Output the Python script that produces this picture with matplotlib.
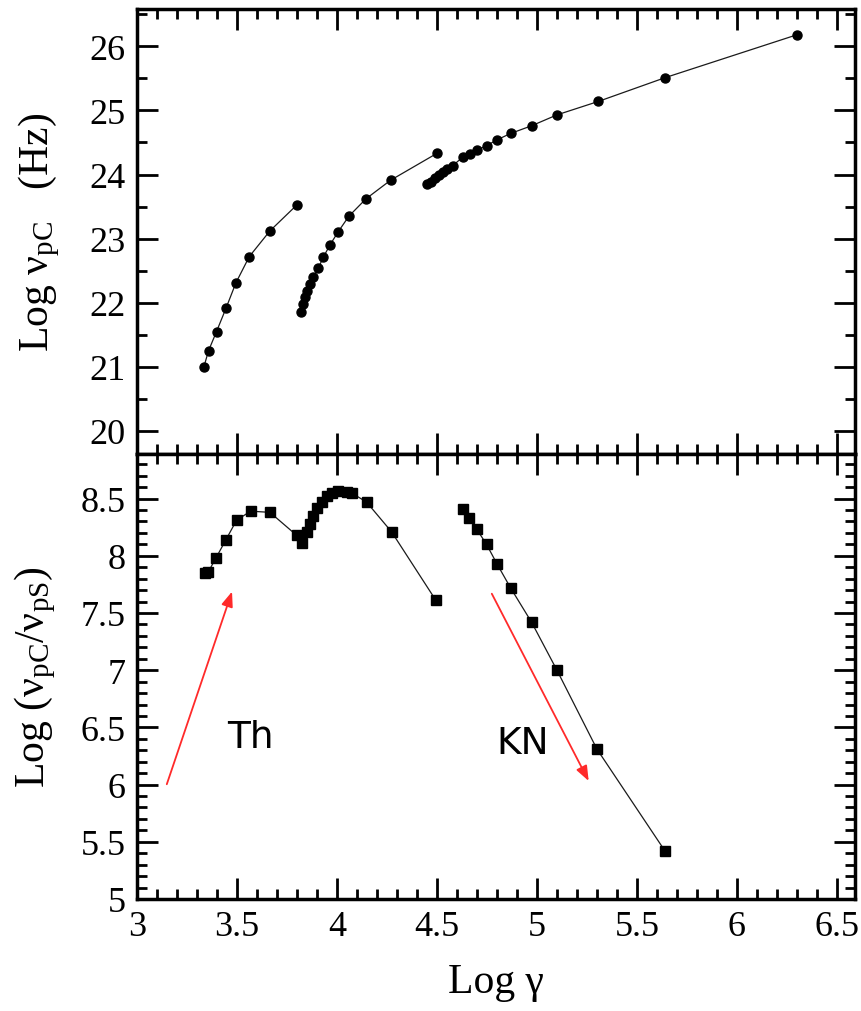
import matplotlib.pyplot as plt
from matplotlib.ticker import MultipleLocator

plt.rcParams["font.family"] = ["Liberation Serif", "DejaVu Serif"]
plt.rcParams["mathtext.fontset"] = "custom"
plt.rcParams["mathtext.rm"] = "Liberation Serif"
plt.rcParams["mathtext.it"] = "Liberation Serif:italic"

# upper panel: Log nu_pC vs Log gamma, three branches
g_top1 = [3.335, 3.358, 3.398, 3.445, 3.495, 3.562, 3.665, 3.798]
nu_top1 = [21.00, 21.25, 21.55, 21.91, 22.31, 22.72, 23.12, 23.52]

g_top2 = [3.818, 3.828, 3.840, 3.852, 3.865, 3.882, 3.907, 3.932, 3.965,
          4.007, 4.060, 4.145, 4.268, 4.500]
nu_top2 = [21.85, 21.98, 22.09, 22.19, 22.29, 22.40, 22.54, 22.71, 22.90,
           23.11, 23.35, 23.62, 23.91, 24.33]

g_top3 = [4.452, 4.470, 4.490, 4.510, 4.530, 4.550, 4.580, 4.632, 4.665,
          4.700, 4.748, 4.800, 4.868, 4.973, 5.100, 5.307, 5.640, 6.300]
nu_top3 = [23.85, 23.89, 23.94, 23.99, 24.04, 24.08, 24.14, 24.28, 24.32,
           24.38, 24.45, 24.54, 24.64, 24.76, 24.93, 25.14, 25.51, 26.18]

# lower panel: Log (nu_pC / nu_pS)
g_th = [3.340, 3.357, 3.395, 3.445, 3.498, 3.568, 3.665, 3.798, 3.823,
        3.848, 3.865, 3.882, 3.898, 3.923, 3.948, 3.973, 4.007, 4.048,
        4.073, 4.148, 4.273, 4.495]
r_th = [7.85, 7.86, 7.98, 8.14, 8.31, 8.39, 8.38, 8.18, 8.11,
        8.21, 8.28, 8.35, 8.42, 8.47, 8.52, 8.55, 8.57, 8.56,
        8.55, 8.47, 8.21, 7.61]

g_kn = [4.628, 4.662, 4.700, 4.748, 4.800, 4.868, 4.973, 5.100, 5.300, 5.640]
r_kn = [8.41, 8.33, 8.23, 8.10, 7.93, 7.72, 7.42, 7.00, 6.31, 5.42]

fig = plt.figure(figsize=(8.61, 10.12), dpi=100)
ax1 = fig.add_axes([0.159, 0.5504, 0.834, 0.4396])
ax2 = fig.add_axes([0.159, 0.1107, 0.834, 0.4397])

line_kw = dict(color="#1a1a1a", lw=0.9)
ax1.plot(g_top1, nu_top1, marker="o", ms=6.5, mfc="black", mec="black", **line_kw)
ax1.plot(g_top2, nu_top2, marker="o", ms=6.5, mfc="black", mec="black", **line_kw)
ax1.plot(g_top3, nu_top3, marker="o", ms=6.5, mfc="black", mec="black", **line_kw)

ax2.plot(g_th, r_th, marker="s", ms=7.5, mfc="black", mec="black", **line_kw)
ax2.plot(g_kn, r_kn, marker="s", ms=7.5, mfc="black", mec="black", **line_kw)

ax1.set_xlim(3, 6.59)
ax2.set_xlim(3, 6.59)
ax1.set_ylim(19.64, 26.58)
ax2.set_ylim(5, 8.89)

for ax in (ax1, ax2):
    ax.xaxis.set_major_locator(MultipleLocator(0.5))
    ax.xaxis.set_minor_locator(MultipleLocator(0.1))
    ax.tick_params(which="both", direction="in", top=True, right=True,
                   width=2, labelsize=26, pad=8)
    ax.tick_params(which="major", length=15)
    ax.tick_params(which="minor", length=7.5)
    for sp in ax.spines.values():
        sp.set_linewidth(2.5)

ax1.yaxis.set_major_locator(MultipleLocator(1))
ax1.yaxis.set_minor_locator(MultipleLocator(0.5))
ax1.tick_params(labelbottom=False)
ax2.yaxis.set_major_locator(MultipleLocator(0.5))
ax2.yaxis.set_minor_locator(MultipleLocator(0.1))
ax2.set_yticks([5, 5.5, 6, 6.5, 7, 7.5, 8, 8.5])
ax2.set_yticklabels(["5", "5.5", "6", "6.5", "7", "7.5", "8", "8.5"])
ax2.set_xticks([3, 3.5, 4, 4.5, 5, 5.5, 6, 6.5])
ax2.set_xticklabels(["3", "3.5", "4", "4.5", "5", "5.5", "6", "6.5"])

ax1.set_ylabel(r"Log ν$_{\rm pC}$   (Hz)", fontsize=30)
ax1.yaxis.set_label_coords(-0.104, 0.5)
ax2.set_ylabel(r"Log (ν$_{\rm pC}$/ν$_{\rm pS}$)", fontsize=30)
ax2.yaxis.set_label_coords(-0.11, 0.5)
ax2.set_xlabel("Log γ", fontsize=30, labelpad=14)

# Thomson and Klein-Nishina trends
arrow_kw = dict(arrowstyle="-|>,head_length=0.9,head_width=0.35",
                color="#ff2a2a", lw=1.3)
ax2.annotate("", xy=(3.48, 7.71), xytext=(3.145, 5.98), arrowprops=arrow_kw)
ax2.annotate("", xy=(5.265, 6.01), xytext=(4.768, 7.69), arrowprops=arrow_kw)
ax2.text(3.565, 6.42, "Th", fontsize=27, family="DejaVu Sans",
         ha="center", va="center")
ax2.text(4.93, 6.36, "KN", fontsize=27, family="DejaVu Sans",
         ha="center", va="center")

fig.savefig("out.png", dpi=100)
